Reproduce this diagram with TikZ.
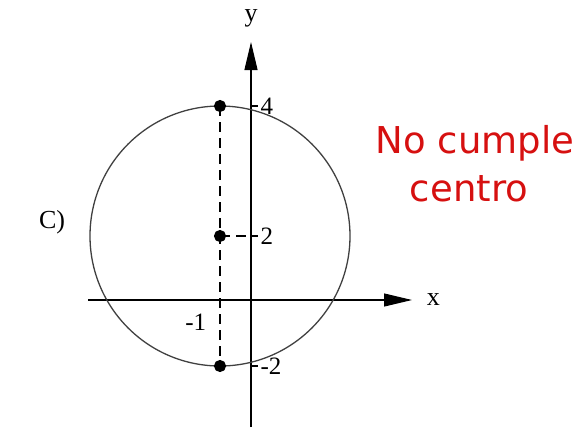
\documentclass[tikz,border=0pt]{standalone}
\usepackage{fontspec}
\setmainfont{Liberation Serif}
\newfontfamily\handfont{DejaVu Sans}
\usetikzlibrary{arrows.meta}
\definecolor{pen}{RGB}{214,16,16}

\begin{document}
\begin{tikzpicture}[x=1pt,y=-1pt,line width=1.1pt,
  axislbl/.style={font=\fontsize{26}{30}\selectfont},
  ticklbl/.style={font=\fontsize{25}{30}\selectfont,right},
  note/.style={font=\handfont\fontsize{37}{42}\selectfont,text=pen}]
\useasboundingbox (0,0) rectangle (587,429);

% axes
\coordinate (xl) at (88,300);
\coordinate (xr) at (412,300);
\coordinate (yb) at (251,427);
\coordinate (yt) at (251,42);
\draw[-{Triangle[length=28pt,width=13pt]}] (xl) -- (xr) node[axislbl,right=11pt] {x};
\draw[-{Triangle[length=28pt,width=13pt]}] (yb) -- (yt) node[axislbl,above=11pt] {y};

% circle
\coordinate (c) at (220,236);
\draw[black!75,line width=1.3pt] (c) circle (130);

% points
\filldraw (220,106) circle (5.5) coordinate (up);
\filldraw (c) circle (5.5);
\filldraw (220,366) circle (5.5) coordinate (down);
\draw[dashed,dash pattern=on 10pt off 6pt] (up) -- (down);

% ticks
\coordinate (t4) at (251,106);
\coordinate (t2) at (251,236);
\coordinate (tm2) at (251,366);
\draw[dashed,dash pattern=on 10pt off 6pt] (c) -- (t2);
\draw (t4) -- ++(7,0) node[ticklbl,inner sep=2pt] {4};
\draw (t2) -- ++(7,0) node[ticklbl,inner sep=2pt] {2};
\draw (tm2) -- ++(7,0) node[ticklbl,inner sep=2pt] {-2};
\node[ticklbl,left] (m1) at (210,322) {-1};

% label
\node[font=\fontsize{26}{30}\selectfont] (lbl) at (52,222) {C)};

% remark
\node[note] (n1) at (475,143) {No cumple};
\node[note] (n2) at (469,189) {centro};
\end{tikzpicture}
\end{document}
